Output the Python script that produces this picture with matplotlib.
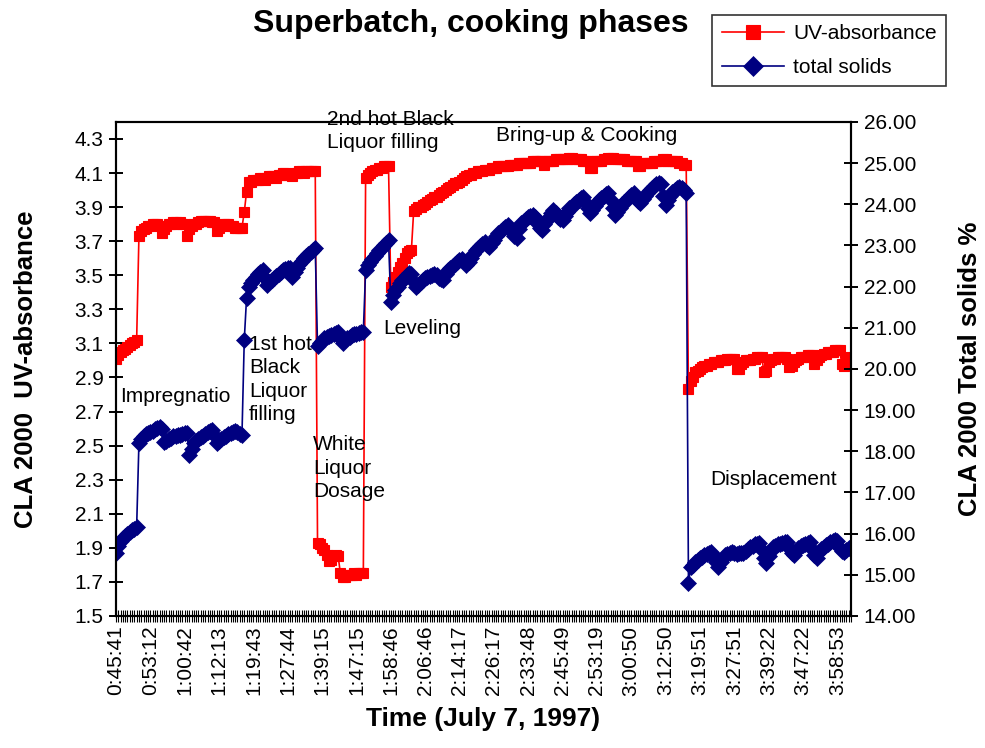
import matplotlib
matplotlib.use("Agg")
import matplotlib.pyplot as plt
import numpy as np

plt.rcParams['font.family'] = ['Liberation Sans', 'DejaVu Sans']

# ---- tick labels (every 15th sample of the time series) ----
time_labels = ["0:45:41", "0:53:12", "1:00:42", "1:12:13", "1:19:43", "1:27:44",
               "1:39:15", "1:47:15", "1:58:46", "2:06:46", "2:14:17", "2:26:17",
               "2:33:48", "2:45:49", "2:53:19", "3:00:50", "3:12:50", "3:19:51",
               "3:27:51", "3:39:22", "3:47:22", "3:58:53"]

# ---- UV-absorbance (left axis) ----
uv_absorbance = [
    # impregnation start
    3.01, 3.03, 3.05, 3.06, 3.07, 3.08, 3.09, 3.10, 3.11, 3.12,
    # impregnation
    3.73, 3.76, 3.77, 3.78, 3.79, 3.79, 3.80, 3.80, 3.80, 3.79,
    3.75, 3.77, 3.79, 3.80, 3.80, 3.81, 3.81, 3.80, 3.81, 3.80,
    3.80, 3.73, 3.77, 3.79, 3.80, 3.80, 3.81, 3.82, 3.82, 3.82,
    3.82, 3.82, 3.81, 3.81, 3.76, 3.78, 3.79, 3.80, 3.80, 3.80,
    3.79, 3.79, 3.78, 3.78, 3.78, 3.78,
    # 1st hot black liquor filling
    3.87, 3.99, 4.05, 4.05, 4.06, 4.06, 4.06, 4.07, 4.07, 4.06,
    4.07, 4.08, 4.08, 4.08, 4.07, 4.09, 4.09, 4.10, 4.10, 4.09,
    4.09, 4.08, 4.10, 4.10, 4.11, 4.11, 4.10, 4.11, 4.11, 4.11,
    4.11, 4.11,
    # white liquor dosage
    1.93, 1.92, 1.90, 1.89, 1.86, 1.82, 1.83, 1.85, 1.86, 1.85,
    1.75, 1.73, 1.73, 1.74, 1.74, 1.74, 1.75, 1.74, 1.75, 1.75,
    1.75,
    # 2nd hot black liquor filling
    4.07, 4.09, 4.10, 4.11, 4.12, 4.12, 4.13, 4.13, 4.14, 4.14,
    4.14,
    # leveling
    3.43, 3.46, 3.49, 3.52, 3.55, 3.57, 3.60, 3.63, 3.64, 3.65,
    # bring-up & cooking
    3.88, 3.89, 3.90, 3.90, 3.91, 3.92, 3.93, 3.94, 3.95, 3.96,
    3.96, 3.97, 3.98, 3.99, 4.00, 4.01, 4.02, 4.03, 4.04, 4.04,
    4.05, 4.06, 4.07, 4.08, 4.09, 4.09, 4.10, 4.10, 4.11, 4.11,
    4.11, 4.12, 4.12, 4.12, 4.13, 4.13, 4.13, 4.14, 4.14, 4.14,
    4.14, 4.14, 4.15, 4.15, 4.15, 4.15, 4.16, 4.16, 4.16, 4.16,
    4.16, 4.16, 4.17, 4.17, 4.17, 4.17, 4.17, 4.15, 4.17, 4.17,
    4.17, 4.17, 4.18, 4.18, 4.18, 4.18, 4.18, 4.18, 4.19, 4.19,
    4.18, 4.18, 4.18, 4.18, 4.17, 4.17, 4.17, 4.13, 4.13, 4.17,
    4.17, 4.17, 4.17, 4.18, 4.18, 4.19, 4.19, 4.19, 4.18, 4.18,
    4.18, 4.18, 4.18, 4.17, 4.17, 4.17, 4.17, 4.17, 4.14, 4.14,
    4.16, 4.16, 4.16, 4.16, 4.16, 4.17, 4.17, 4.17, 4.17, 4.18,
    4.18, 4.17, 4.17, 4.17, 4.17, 4.17, 4.16, 4.16, 4.15, 4.15,
    # displacement
    2.83, 2.88, 2.90, 2.93, 2.94, 2.95, 2.96, 2.97, 2.97, 2.98,
    2.98, 2.99, 2.99, 2.99, 3.00, 3.00, 3.00, 3.01, 3.01, 3.01,
    3.01, 2.95, 2.95, 2.98, 2.99, 3.00, 3.00, 3.00, 3.01, 3.01,
    3.02, 3.02, 3.02, 2.93, 2.94, 2.99, 3.00, 3.01, 3.01, 3.02,
    3.02, 3.02, 3.02, 3.01, 2.96, 2.97, 2.99, 3.00, 3.01, 3.02,
    3.02, 3.02, 3.03, 3.03, 3.03, 2.98, 3.00, 3.02, 3.03, 3.04,
    3.04, 3.05, 3.05, 3.05, 3.06, 3.06, 3.06, 2.98, 2.97, 3.01,
    3.02, 3.01,
]

# ---- total solids % (right axis) ----
total_solids = [
    15.53, 15.70, 15.82, 15.90, 15.95, 16.00, 16.05, 16.08, 16.12, 16.16,
    18.20, 18.30, 18.38, 18.42, 18.45, 18.47, 18.50, 18.53, 18.56, 18.59,
    18.55, 18.23, 18.26, 18.30, 18.33, 18.36, 18.38, 18.40, 18.40, 18.42,
    18.44, 18.45, 17.91, 18.05, 18.20, 18.26, 18.30, 18.35, 18.38, 18.42,
    18.46, 18.50, 18.52, 18.40, 18.20, 18.26, 18.30, 18.35, 18.38, 18.42,
    18.45, 18.47, 18.50, 18.46, 18.42, 18.40,
    20.70, 21.72, 22.00, 22.09, 22.15, 22.23, 22.30, 22.36, 22.40, 22.20,
    22.04, 22.10, 22.15, 22.21, 22.26, 22.30, 22.36, 22.40, 22.43, 22.45,
    22.45, 22.23, 22.35, 22.45, 22.55, 22.62, 22.70, 22.75, 22.80, 22.84,
    22.90, 22.94,
    20.55, 20.62, 20.68, 20.75, 20.78, 20.80, 20.83, 20.85, 20.88, 20.90,
    20.75, 20.63, 20.70, 20.74, 20.78, 20.82, 20.84, 20.86, 20.88, 20.90,
    20.90,
    22.40, 22.52, 22.60, 22.68, 22.75, 22.82, 22.88, 22.94, 23.00, 23.06,
    23.12,
    21.63, 21.80, 21.92, 22.00, 22.08, 22.16, 22.22, 22.28, 22.33, 22.30,
    22.10, 21.99, 22.04, 22.10, 22.16, 22.20, 22.23, 22.26, 22.28, 22.30,
    22.28, 22.22, 22.18, 22.16, 22.30, 22.40, 22.45, 22.50, 22.55, 22.60,
    22.65, 22.68, 22.60, 22.53, 22.60, 22.70, 22.80, 22.89, 22.94, 22.98,
    23.03, 23.08, 23.02, 22.96, 23.05, 23.14, 23.22, 23.30, 23.35, 23.40,
    23.45, 23.50, 23.42, 23.32, 23.22, 23.18, 23.40, 23.55, 23.60, 23.64,
    23.68, 23.71, 23.74, 23.70, 23.55, 23.42, 23.38, 23.52, 23.62, 23.70,
    23.78, 23.86, 23.80, 23.70, 23.65, 23.62, 23.72, 23.82, 23.90, 23.93,
    24.00, 24.05, 24.10, 24.15, 24.18, 24.05, 23.90, 23.79, 23.85, 23.95,
    24.03, 24.10, 24.15, 24.20, 24.24, 24.27, 24.10, 23.90, 23.74, 23.82,
    23.92, 24.00, 24.05, 24.10, 24.17, 24.22, 24.27, 24.15, 24.08, 24.03,
    24.12, 24.20, 24.28, 24.35, 24.40, 24.45, 24.49, 24.52, 24.50, 24.20,
    23.98, 24.10, 24.20, 24.30, 24.35, 24.40, 24.42, 24.40, 24.35, 24.27,
    14.80, 15.19, 15.25, 15.31, 15.36, 15.40, 15.44, 15.48, 15.50, 15.53,
    15.55, 15.45, 15.30, 15.19, 15.30, 15.40, 15.48, 15.50, 15.53, 15.55,
    15.52, 15.50, 15.52, 15.53, 15.53, 15.58, 15.63, 15.68, 15.71, 15.74,
    15.76, 15.77, 15.60, 15.40, 15.29, 15.45, 15.58, 15.68, 15.71, 15.74,
    15.76, 15.78, 15.79, 15.80, 15.65, 15.52, 15.48, 15.58, 15.65, 15.70,
    15.72, 15.75, 15.78, 15.80, 15.62, 15.48, 15.41, 15.55, 15.63, 15.68,
    15.72, 15.76, 15.80, 15.83, 15.85, 15.82, 15.65, 15.58, 15.55, 15.60,
    15.65, 15.68,
]

n = min(len(uv_absorbance), len(total_solids))
uv_absorbance = uv_absorbance[:n]
total_solids = total_solids[:n]
idx = np.arange(n)
label_step = 15

fig = plt.figure(figsize=(9.85, 7.48), dpi=100)
ax = fig.add_axes([0.1178, 0.1765, 0.864 - 0.1178, 0.837 - 0.1765])
ax2 = ax.twinx()

red = '#FF0000'
navy = '#000080'

l1, = ax.plot(idx, uv_absorbance, color=red, lw=1.2, marker='s', ms=7.5,
              mfc=red, mec=red, mew=0.8, label='UV-absorbance')
l2, = ax2.plot(idx, total_solids, color=navy, lw=1.2, marker='D', ms=8,
               mfc=navy, mec=navy, mew=0.5, label='total solids')

ax.set_xlim(0, n - 1)
ax.set_ylim(1.5, 4.4)
ax2.set_ylim(14, 26)
ax.set_yticks(np.arange(1.5, 4.31, 0.2))
ax.set_yticklabels([f"{v:.1f}" for v in np.arange(1.5, 4.31, 0.2)])
ax2.set_yticks(np.arange(14, 26.1, 1))
ax2.set_yticklabels([f"{v:.2f}" for v in np.arange(14, 26.1, 1)])

ax.set_xticks(np.arange(0, n, label_step)[:len(time_labels)])
ax.set_xticklabels(time_labels, rotation=90)
ax.set_xticks(idx, minor=True)

for a in (ax, ax2):
    for s in a.spines.values():
        s.set_linewidth(1.5)
        s.set_color('black')

ax.tick_params(axis='x', which='both', direction='inout', length=8, width=0.8,
               labelsize=15, pad=3)
ax.tick_params(axis='y', direction='inout', length=10, width=1.4, labelsize=15, pad=4)
ax2.tick_params(axis='y', direction='inout', length=10, width=1.4, labelsize=15, pad=4)

ax.set_xlabel('Time (July 7, 1997)', fontsize=19, fontweight='bold', labelpad=8)
ax.set_ylabel('CLA 2000  UV-absorbance', fontsize=18.5, fontweight='bold', labelpad=26)
ax2.set_ylabel('CLA 2000 Total solids %', fontsize=18.5, fontweight='bold', labelpad=30)

fig.text(0.478, 0.968, 'Superbatch, cooking phases', fontsize=23, fontweight='bold',
         ha='center', va='center')

ann = dict(fontsize=15, color='black', linespacing=1.3)
ax.text(1.7, 2.79, 'Impregnatio', ha='left', va='center', **ann)
ax.text(58.1, 3.15, '1st hot\nBlack\nLiquor\nfilling', ha='left', va='top', **ann)
ax.text(86.1, 2.56, 'White\nLiquor\nDosage', ha='left', va='top', **ann)
ax.text(92.2, 4.47, '2nd hot Black\nLiquor filling', ha='left', va='top', clip_on=False, **ann)
ax.text(116.6, 3.19, 'Leveling', ha='left', va='center', **ann)
ax.text(166, 4.32, 'Bring-up & Cooking', ha='left', va='center', **ann)
ax.text(259.5, 2.30, 'Displacement', ha='left', va='center', **ann)

leg = fig.legend(handles=[l1, l2], loc='upper left', bbox_to_anchor=(0.723, 0.98),
                 fontsize=15, frameon=True, fancybox=False, edgecolor='black',
                 handlelength=3.0, borderaxespad=0, borderpad=0.45, labelspacing=0.7,
                 handletextpad=0.45, markerscale=1.3)
leg.get_frame().set_linewidth(1.2)

fig.savefig('out.png', dpi=100)
